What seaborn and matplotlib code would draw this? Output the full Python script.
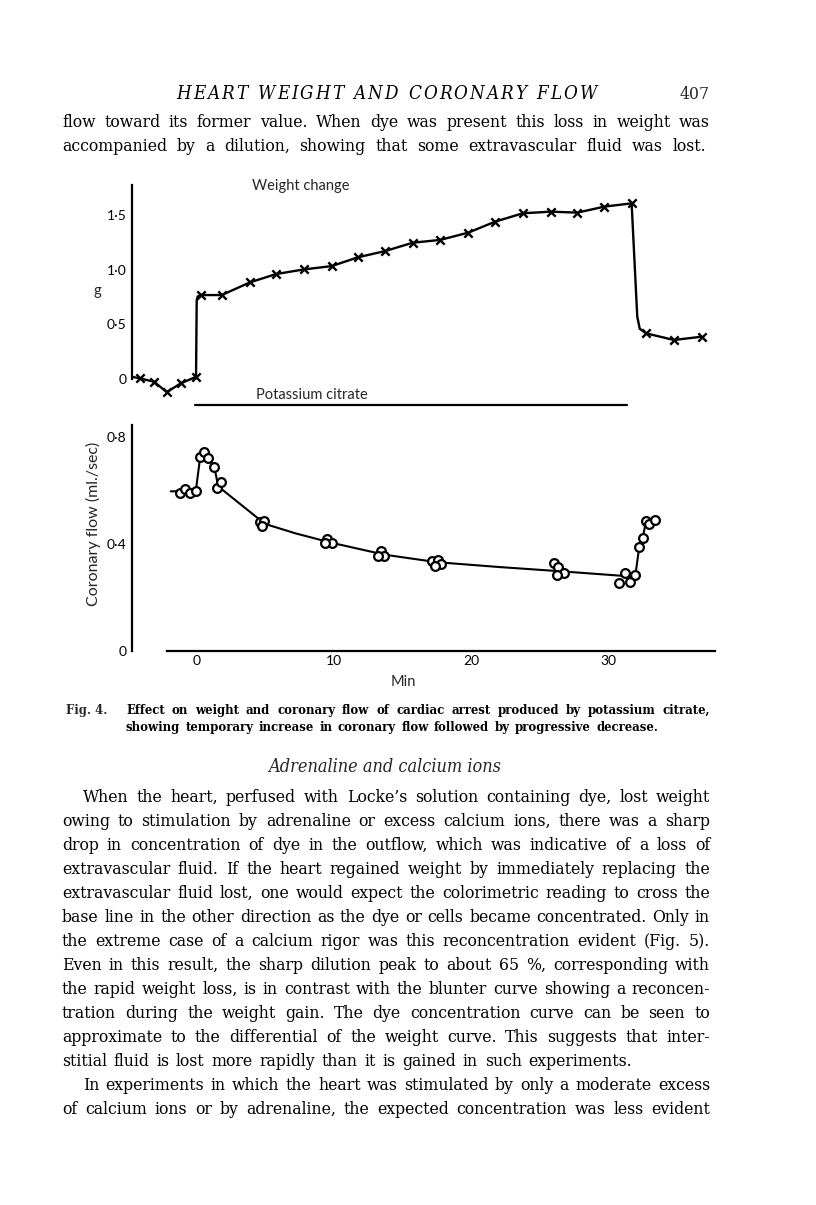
import matplotlib
matplotlib.use("Agg")
import matplotlib.pyplot as plt
from matplotlib import font_manager
from matplotlib.font_manager import FontProperties
import seaborn as sns

# ---- data (time in min) ----
# weight change (g), crosses
weight_min = [-4.1, -3.07, -2.15, -1.13, -0.02, 0.32, 1.85, 3.9, 5.8, 7.85, 9.85, 11.74,
              13.72, 15.74, 17.72, 19.78, 21.72, 23.74, 25.77, 27.71, 29.67, 31.66,
              32.7, 34.74, 36.76]
weight_g = [0.006, -0.025, -0.12, -0.04, 0.02, 0.768, 0.768, 0.884, 0.96, 1.003, 1.033, 1.113,
            1.17, 1.247, 1.272, 1.339, 1.439, 1.516, 1.531, 1.522, 1.577, 1.607,
            0.418, 0.357, 0.387]
# drawn trace through the crosses
weight_line_min = [-4.68, -4.1, -3.07, -2.15, -1.13, -0.02, 0.03, 0.1, 0.32, 1.85, 3.9, 5.8,
                   7.85, 9.85, 11.74, 13.72, 15.74, 17.72, 19.78, 21.72, 23.74, 25.77, 27.71,
                   29.67, 31.66, 32.07, 32.25, 32.7, 34.74, 36.76]
weight_line_g = [0.02, 0.006, -0.025, -0.12, -0.04, 0.02, 0.72, 0.755, 0.768, 0.768, 0.884, 0.96,
                 1.003, 1.033, 1.113, 1.17, 1.247, 1.272, 1.339, 1.439, 1.516, 1.531, 1.522,
                 1.577, 1.607, 0.57, 0.46, 0.418, 0.357, 0.387]

# coronary flow (ml./sec), circles
flow_min = [-1.19, -0.82, -0.46, -0.04, 0.27, 0.56, 0.88, 1.31, 1.48, 1.77,
            4.63, 4.95, 4.76, 9.53, 9.85, 9.36, 13.43, 13.68, 13.24,
            17.17, 17.6, 17.78, 17.36, 26.04, 26.33, 26.74, 26.21,
            30.76, 31.18, 31.54, 31.93, 32.22, 32.47, 32.71, 32.95, 33.38]
flow_ml = [0.59, 0.605, 0.59, 0.598, 0.726, 0.745, 0.72, 0.687, 0.608, 0.631,
           0.483, 0.487, 0.467, 0.418, 0.405, 0.403, 0.375, 0.356, 0.356,
           0.338, 0.340, 0.325, 0.318, 0.328, 0.314, 0.293, 0.284,
           0.253, 0.29, 0.259, 0.283, 0.39, 0.424, 0.486, 0.475, 0.49]
flow_line_min = [-1.86, -0.04, 0.27, 0.56, 0.88, 1.31, 1.6, 5.0, 7.2, 9.8, 13.7, 17.5, 22.0,
                 26.5, 31.78, 31.93, 32.22, 32.47, 32.71, 32.95, 33.38]
flow_line_ml = [0.597, 0.597, 0.72, 0.745, 0.72, 0.687, 0.615, 0.475, 0.44, 0.405, 0.36, 0.332,
                0.314, 0.298, 0.278, 0.283, 0.39, 0.424, 0.486, 0.475, 0.49]

citrate_span = [-0.1, 31.3]

weight_ticks = [0, 0.5, 1.0, 1.5]
weight_labels = ["0", "0·5", "1·0", "1·5"]
flow_ticks = [0, 0.2, 0.4, 0.6, 0.8]
flow_labels = ["0", "", "0·4", "", "0·8"]
min_ticks = [0, 5, 10, 15, 20, 25, 30, 35]
min_labels = ["0", "", "10", "", "20", "", "30", ""]

header = "HEART WEIGHT AND CORONARY FLOW"
page_no = "407"
top_lines = [
    "flow toward its former value. When dye was present this loss in weight was",
    "accompanied by a dilution, showing that some extravascular fluid was lost.",
]
caption = [
    "Effect on weight and coronary flow of cardiac arrest produced by potassium citrate,",
    "showing temporary increase in coronary flow followed by progressive decrease.",
]
section = "Adrenaline and calcium ions"
body_lines = [
    "When the heart, perfused with Locke’s solution containing dye, lost weight",
    "owing to stimulation by adrenaline or excess calcium ions, there was a sharp",
    "drop in concentration of dye in the outflow, which was indicative of a loss of",
    "extravascular fluid. If the heart regained weight by immediately replacing the",
    "extravascular fluid lost, one would expect the colorimetric reading to cross the",
    "base line in the other direction as the dye or cells became concentrated. Only in",
    "the extreme case of a calcium rigor was this reconcentration evident (Fig. 5).",
    "Even in this result, the sharp dilution peak to about 65 %, corresponding with",
    "the rapid weight loss, is in contrast with the blunter curve showing a reconcen-",
    "tration during the weight gain. The dye concentration curve can be seen to",
    "approximate to the differential of the weight curve. This suggests that inter-",
    "stitial fluid is lost more rapidly than it is gained in such experiments.",
    "In experiments in which the heart was stimulated by only a moderate excess",
    "of calcium ions or by adrenaline, the expected concentration was less evident",
]
body_starts = [83, 62, 62, 62, 62, 62, 62, 62, 62, 62, 62, 62, 83, 62]
body_ends = [710] * 11 + [632, 710, 710]

# ---- page ----
W, H = 816, 1205
sns.set_theme(style="white")
plt.rcParams["font.family"] = ["Lato", "DejaVu Sans"]
plt.rcParams["axes.linewidth"] = 1.6

fig = plt.figure(figsize=(W / 100, H / 100), dpi=100)
fig.patch.set_facecolor("white")
renderer = fig.canvas.get_renderer()

ZERO_PX, PX_PER_MIN = 196.3, 13.75
LEFT_PX, RIGHT_PX = 132, 720
xlim = ((LEFT_PX - ZERO_PX) / PX_PER_MIN, (RIGHT_PX - ZERO_PX) / PX_PER_MIN)


def box(x0, y0, x1, y1):
    return [x0 / W, 1 - y1 / H, (x1 - x0) / W, (y1 - y0) / H]


def style_axis(ax):
    ax.set_facecolor("none")
    for s in ["top", "right"]:
        ax.spines[s].set_visible(False)
    for s in ["left", "bottom"]:
        ax.spines[s].set_color("black")
    ax.tick_params(axis="both", direction="in", length=7.5, width=1.6, colors="black",
                   labelsize=10, pad=4)
    ax.grid(False)


# weight panel
ax1 = fig.add_axes(box(LEFT_PX, 185, RIGHT_PX, 412))
style_axis(ax1)
G0_PX, PX_PER_G = 379, 109.3
ax1.set_xlim(*xlim)
ax1.set_ylim((G0_PX - 412) / PX_PER_G, (G0_PX - 185) / PX_PER_G)
ax1.spines["bottom"].set_visible(False)
ax1.spines["left"].set_bounds(0, (G0_PX - 185) / PX_PER_G)
ax1.set_xticks([])
ax1.set_yticks(weight_ticks, weight_labels)
sns.lineplot(x=weight_line_min, y=weight_line_g, ax=ax1, color="black", lw=1.7, sort=False,
             estimator=None)
sns.scatterplot(x=weight_min, y=weight_g, ax=ax1, marker="x", color="black", s=36,
                linewidth=1.7, zorder=3)
ax1.plot(citrate_span, [-0.238, -0.238], color="black", lw=1.6, clip_on=False)
ax1.text(8.4, -0.15, "Potassium citrate", ha="center", va="center", fontsize=10.5)
ax1.text(7.6, 1.765, "Weight change", ha="center", va="center", fontsize=10.5)
ax1.set_ylabel("g", fontsize=10.5, rotation=0, labelpad=0, va="center")
ax1.yaxis.set_label_coords((97 - LEFT_PX) / (RIGHT_PX - LEFT_PX), (412 - 291) / (412 - 185))

# flow panel
ax2 = fig.add_axes(box(LEFT_PX, 425, RIGHT_PX, 651))
style_axis(ax2)
F0_PX, PX_PER_ML = 651, 267.5
ax2.set_xlim(*xlim)
ax2.set_ylim(0, (F0_PX - 425) / PX_PER_ML)
ax2.spines["left"].set_bounds(0, (F0_PX - 425) / PX_PER_ML)
ax2.spines["bottom"].set_bounds(-2.1, 37.7)
ax2.set_yticks(flow_ticks, flow_labels)
ax2.set_xticks(min_ticks, min_labels)
ax2.tick_params(axis="x", length=10, pad=3)
sns.lineplot(x=flow_line_min, y=flow_line_ml, ax=ax2, color="black", lw=1.5, sort=False,
             estimator=None)
sns.scatterplot(x=flow_min, y=flow_ml, ax=ax2, marker="o", facecolor="white",
                edgecolor="black", s=40, linewidth=1.6, zorder=3)
ax2.set_ylabel("Coronary flow (ml./sec)", fontsize=11.5, va="center")
ax2.yaxis.set_label_coords((93 - LEFT_PX) / (RIGHT_PX - LEFT_PX), (651 - 524) / (651 - 425))
ax2.set_xlabel("Min", fontsize=10.5)
ax2.xaxis.set_label_coords((403 - LEFT_PX) / (RIGHT_PX - LEFT_PX), (651 - 682) / (651 - 425))
ax2.xaxis.label.set_va("center")


# ---- page text ----
# one font file per style, no family fallback list
def serif_file(style="normal", weight="normal"):
    return font_manager.findfont(FontProperties(family="DejaVu Serif", stretch="condensed",
                                                style=style, weight=weight))


FILES = {
    "regular": serif_file(),
    "italic": serif_file(style="italic"),
    "bold": serif_file(weight="bold"),
}


def fp(kind, size):
    return FontProperties(fname=FILES[kind], size=size)


def justify(txt, base_px, x0, x1, size, kind="regular"):
    # spread the words of one line between x0 and x1 (pixels), one size per font file
    words = txt.split()
    objs = [fig.text(0, 1 - base_px / H, w, fontproperties=fp(kind, size), va="baseline",
                     color="black") for w in words]
    widths = [o.get_window_extent(renderer).width for o in objs]
    gap = (x1 - x0 - sum(widths)) / max(len(words) - 1, 1)
    x = x0
    for o, w in zip(objs, widths):
        o.set_x(x / W)
        x += w + gap


def spaced(txt, base_px, x0, x1, size, kind="italic"):
    # letter-spaced line: every glyph placed with the same extra tracking
    objs = [fig.text(0, 1 - base_px / H, c, fontproperties=fp(kind, size), va="baseline",
                     color="black") for c in txt]
    widths = [o.get_window_extent(renderer).width if c != " " else size * 0.3 * 100 / 72
              for o, c in zip(objs, txt)]
    track = (x1 - x0 - sum(widths)) / max(len(txt) - 1, 1)
    x = x0
    for o, w in zip(objs, widths):
        o.set_x(x / W)
        x += w + track


BODY = 12.6
spaced(header, 99, 176, 597, 13.5, kind="italic")
fig.text(710 / W, 1 - 99 / H, page_no, ha="right", va="baseline",
         fontproperties=fp("regular", BODY))

justify(top_lines[0], 127, 62, 710, BODY)
justify(top_lines[1], 151, 62, 706, BODY)

CAP = 9.4
fig.text(66 / W, 1 - 714 / H, "Fig. 4.", va="baseline", fontproperties=fp("bold", CAP))
justify(caption[0], 714, 126, 710, CAP, kind="bold")
justify(caption[1], 731, 126, 658, CAP, kind="bold")

fig.text(385 / W, 1 - 772 / H, section, ha="center", va="baseline",
         fontproperties=fp("italic", 13))

for i, (line, a, b) in enumerate(zip(body_lines, body_starts, body_ends)):
    justify(line, 802 + 24 * i, a, b, BODY)

fig.savefig("out.png", dpi=100, facecolor="white")
